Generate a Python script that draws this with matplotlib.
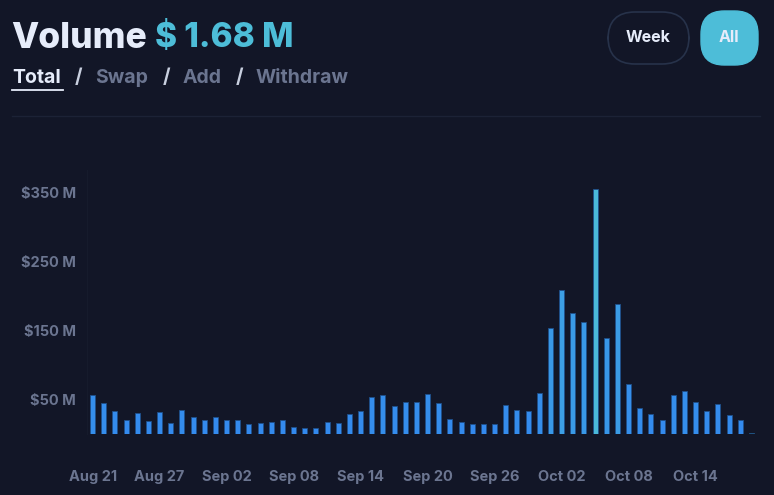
import matplotlib
matplotlib.use("Agg")
import matplotlib.pyplot as plt
from matplotlib.patches import FancyBboxPatch
from matplotlib.colors import LinearSegmentedColormap
import numpy as np
import datetime as dt

# daily volume in $M, Aug 21 .. Oct 19
volume = [56, 45, 34, 21, 31, 19, 32, 16, 35, 25,
          21, 24, 20, 20, 14.5, 15.5, 18, 20, 10.5, 9,
          9, 18, 16, 28.5, 34, 53, 57, 40, 47, 47,
          57.5, 45, 21.5, 18, 14, 14.5, 15, 42.5, 35, 33,
          60, 153, 208, 176, 162, 355.5, 139.5, 189, 73, 38,
          29.5, 21, 57, 63, 46, 34, 44, 28, 21, 1]
start = dt.date(2023, 8, 21)
days = [start + dt.timedelta(days=i) for i in range(len(volume))]
y_ticks = [50, 150, 250, 350]
y_labels = ["$50 M", "$150 M", "$250 M", "$350 M"]
x_tick_idx = list(range(0, 60, 6))

BG = "#121627"
GRAY = "#6b7590"
CYAN = "#4dbdd8"
WHITE = "#e6ecfa"
FONT = ["Inter", "DejaVu Sans"]

W, H = 774, 495
fig = plt.figure(figsize=(W / 100, H / 100), dpi=100, facecolor=BG)

ax = fig.add_axes([87 / W, 1 - 434 / H, 670 / W, 264 / H], facecolor=BG)
cmap = LinearSegmentedColormap.from_list("vol", ["#3388ee", "#3a9ae6", "#4ab8d8"])
x = np.arange(len(volume))
colors = []
for v in volume:
    if v < 3:
        colors.append("#2ea36a")
    else:
        colors.append(cmap(min(v / 355.0, 1.0)))
ax.bar(x, volume, width=0.45, color=colors, edgecolor="#1f4f8a", linewidth=0.6)
ax.set_xlim(-0.5, len(volume) - 0.5)
ax.set_ylim(0, 382.6)
for s in ax.spines.values():
    s.set_visible(False)
ax.spines["left"].set_visible(True)
ax.spines["left"].set_color("#161b2c")
ax.set_yticks(y_ticks)
ax.set_yticklabels(y_labels)
ax.set_xticks(x_tick_idx)
ax.set_xticklabels([days[i].strftime("%b %d") for i in x_tick_idx])
ax.tick_params(length=0, colors=GRAY, labelsize=10.5)
ax.tick_params(axis="y", pad=8)
ax.tick_params(axis="x", pad=31)
for lab in ax.get_xticklabels() + ax.get_yticklabels():
    lab.set_fontweight("bold")
    lab.set_family(FONT)
for lab in ax.get_xticklabels():
    lab.set_va("center")

# header
fig.text(11 / W, 1 - 38 / H, "Volume", color=WHITE, fontsize=25.5, fontweight="heavy",
         family=FONT, va="center", ha="left")
fig.text(155 / W, 1 - 38 / H, "$ 1.68 M", color=CYAN, fontsize=24, fontweight="heavy",
         family=FONT, va="center", ha="left")

tabs = [("Total", 12, WHITE), ("/", 75, "#c8cfdf"), ("Swap", 95, GRAY), ("/", 163, "#c8cfdf"),
        ("Add", 183, GRAY), ("/", 236, "#c8cfdf"), ("Withdraw", 256, GRAY)]
for t, px, c in tabs:
    fig.text(px / W, 1 - 78 / H, t, color=c, fontsize=14, fontweight="bold",
             family=FONT, va="center", ha="left")
fig.add_artist(plt.Line2D([12 / W, 63 / W], [1 - 90 / H, 1 - 90 / H], color=WHITE, lw=1.3))
fig.add_artist(plt.Line2D([12 / W, 760 / W], [1 - 116 / H, 1 - 116 / H], color="#1c2236", lw=1))

# buttons
week = FancyBboxPatch((608 / W, 1 - 64 / H), 81 / W, 52 / H,
                      boxstyle="round,pad=0,rounding_size=0.035", transform=fig.transFigure,
                      facecolor=BG, edgecolor="#27324a", lw=1.2, mutation_aspect=W / H)
allb = FancyBboxPatch((701 / W, 1 - 65 / H), 57 / W, 54 / H,
                      boxstyle="round,pad=0,rounding_size=0.03", transform=fig.transFigure,
                      facecolor=CYAN, edgecolor=CYAN, lw=1, mutation_aspect=W / H)
fig.add_artist(week)
fig.add_artist(allb)
fig.text(648 / W, 1 - 37 / H, "Week", color=WHITE, fontsize=11.5, fontweight="bold",
         family=FONT, ha="center", va="center")
fig.text(729 / W, 1 - 37 / H, "All", color=WHITE, fontsize=11.5, fontweight="bold",
         family=FONT, ha="center", va="center")

fig.savefig("out.png", dpi=100, facecolor=BG)
